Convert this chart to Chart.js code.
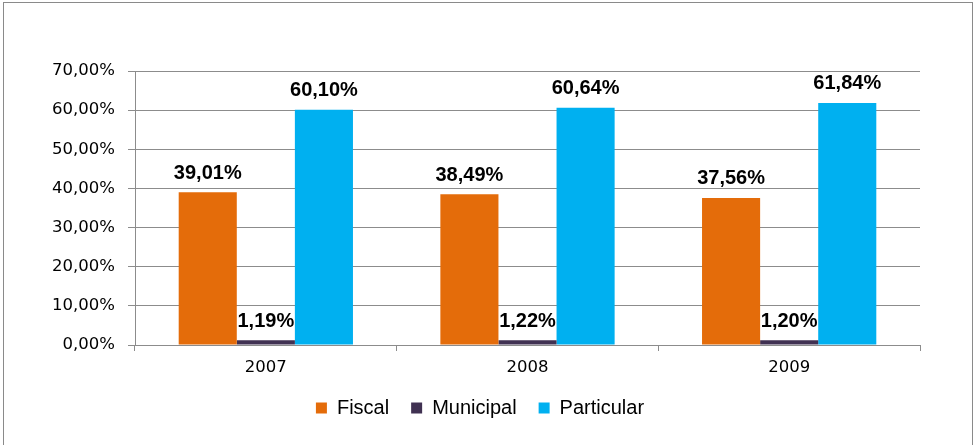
<!DOCTYPE html>
<html>
<head>
<meta charset="utf-8">
<script src="https://cdn.jsdelivr.net/npm/chart.js@4"></script>
<style>
  html, body { margin: 0; padding: 0; background: #fff; }
  #wrap { position: relative; width: 974px; height: 445px; overflow: hidden; }
  #frame { position: absolute; left: 3px; top: 2px; width: 968px; height: 460px; border: 1px solid #8a8a8a; }
  canvas { position: absolute; left: 0; top: 0; }
</style>
</head>
<body>
<div id="wrap">
  <div id="frame"></div>
  <canvas id="chart" width="974" height="445"></canvas>
</div>
<script>
const years = ['2007', '2008', '2009'];
const fiscal = [39.01, 38.49, 37.56];
const municipal = [1.19, 1.22, 1.20];
const particular = [60.10, 60.64, 61.84];
const yTicks = [0, 10, 20, 30, 40, 50, 60, 70];

const pct = v => v.toFixed(2).replace('.', ',') + '%';
const gridGray = '#8c8c8c';
const axisFont = { family: '"DejaVu Sans", Verdana, sans-serif', size: 16.5 };

// labels on top of every bar
const barLabels = {
  id: 'barLabels',
  afterDatasetsDraw(chart) {
    const ctx = chart.ctx;
    ctx.save();
    ctx.font = 'bold 20px "Liberation Sans", Arial, sans-serif';
    ctx.fillStyle = '#000';
    ctx.textAlign = 'center';
    ctx.textBaseline = 'bottom';
    chart.data.datasets.forEach((ds, i) => {
      chart.getDatasetMeta(i).data.forEach((bar, j) => {
        ctx.fillText(pct(ds.data[j]), bar.x, bar.y - 9);
      });
    });
    ctx.restore();
  }
};

new Chart(document.getElementById('chart'), {
  type: 'bar',
  data: {
    labels: years,
    datasets: [
      { label: 'Fiscal', data: fiscal, backgroundColor: '#E46C0A' },
      { label: 'Municipal', data: municipal, backgroundColor: '#403152' },
      { label: 'Particular', data: particular, backgroundColor: '#00B0F0' }
    ]
  },
  options: {
    responsive: false,
    animation: false,
    devicePixelRatio: 1,
    layout: { padding: { left: 40, right: 54, top: 71, bottom: 17 } },
    datasets: { bar: { categoryPercentage: 0.666, barPercentage: 1 } },
    plugins: {
      tooltip: { enabled: false },
      legend: {
        position: 'bottom',
        labels: {
          boxWidth: 11,
          boxHeight: 11,
          padding: 22,
          color: '#000',
          font: { family: '"Liberation Sans", Arial, sans-serif', size: 20 }
        }
      }
    },
    scales: {
      x: {
        grid: { drawOnChartArea: false, drawTicks: true, tickLength: 6, color: gridGray, offset: true },
        border: { color: gridGray },
        ticks: { color: '#000', padding: 7, font: axisFont },
        afterFit: s => { s.height = 31; }
      },
      y: {
        min: 0,
        max: 70,
        afterBuildTicks: s => { s.ticks = yTicks.map(v => ({ value: v })); },
        grid: { color: gridGray, tickLength: 7 },
        border: { color: gridGray },
        ticks: {
          color: '#000',
          padding: 13,
          font: axisFont,
          callback: v => pct(v)
        },
        afterFit: s => { s.width = 95; }
      }
    }
  },
  plugins: [barLabels]
});
</script>
</body>
</html>
